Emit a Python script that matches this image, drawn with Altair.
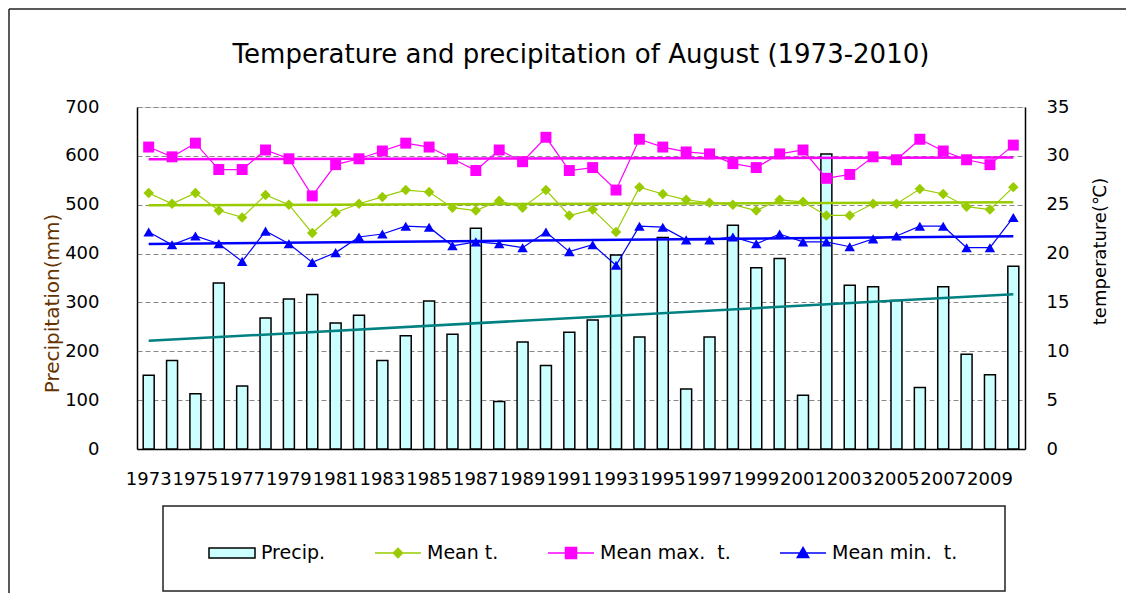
import altair as alt
import pandas as pd

years = list(range(1973, 2011))
precip = [151, 181, 113, 340, 129, 268, 307, 316, 258, 274, 181, 232, 303,
          235, 452, 97, 219, 171, 239, 264, 397, 229, 433, 123, 229, 458,
          371, 390, 110, 604, 335, 332, 304, 126, 332, 194, 152, 374]
mean_t = [26.2, 25.1, 26.2, 24.4, 23.7, 26.0, 25.0, 22.1, 24.2, 25.1, 25.8, 26.5, 26.3,
          24.7, 24.4, 25.4, 24.7, 26.5, 23.9, 24.5, 22.2, 26.8, 26.1, 25.5, 25.2, 25.0,
          24.4, 25.5, 25.3, 23.9, 23.9, 25.1, 25.1, 26.6, 26.1, 24.8, 24.5, 26.8]
mean_max = [30.9, 29.9, 31.3, 28.6, 28.6, 30.6, 29.7, 25.9, 29.1, 29.7, 30.5, 31.3, 30.9,
            29.7, 28.5, 30.6, 29.4, 31.9, 28.5, 28.8, 26.5, 31.7, 30.9, 30.4, 30.2, 29.2,
            28.8, 30.2, 30.6, 27.7, 28.1, 29.9, 29.6, 31.7, 30.5, 29.6, 29.1, 31.1]
mean_min = [22.2, 20.9, 21.8, 21.0, 19.2, 22.3, 21.0, 19.1, 20.1, 21.7, 22.0, 22.8, 22.7,
            20.8, 21.2, 21.0, 20.6, 22.2, 20.2, 20.9, 18.8, 22.8, 22.7, 21.4, 21.4, 21.7,
            21.0, 22.0, 21.2, 21.2, 20.7, 21.5, 21.8, 22.8, 22.8, 20.6, 20.6, 23.7]

year_labels = list(range(1973, 2010, 2))
precip_ticks = list(range(0, 701, 100))
temp_ticks = list(range(0, 36, 5))

series_names = ["Precip.", "Mean t.", "Mean max.\u00a0 t.", "Mean min.\u00a0 t."]
series_fill = ["#ccffff", "#99cc00", "#ff00ff", "#0000ff"]
series_stroke = ["#000000", "#99cc00", "#ff00ff", "#0000ff"]
legend_shapes = [
    "M-1,-0.22H1V0.22H-1Z",
    "M-1,0H1M-0.2,0L0,-0.2L0.2,0L0,0.2Z",
    "M-1,0H1M-0.24,-0.24H0.24V0.24H-0.24Z",
    "M-1,0H1M0,-0.24L0.25,0.2H-0.25Z",
]

FONT = "DejaVu Sans"
W, H = 888, 342
PAD = {"left": 129, "top": 99, "right": 101, "bottom": 144}

df = pd.DataFrame({"year": years, "precip": precip, "mean_t": mean_t,
                   "mean_max": mean_max, "mean_min": mean_min})

x_enc = alt.X(
    "year:O",
    scale=alt.Scale(domain=years, paddingInner=0.53, paddingOuter=0.265),
    axis=alt.Axis(values=year_labels, title=None, labelAngle=0, ticks=False,
                  labelPadding=21, labelFont=FONT, labelFontSize=18,
                  labelColor="black", domainColor="black", domainWidth=1.5,
                  labelOverlap=False, grid=False),
)

precip_axis = alt.Axis(values=precip_ticks, title="Precipitation(mm)", ticks=False,
                       labelPadding=38, labelFont=FONT, labelFontSize=18,
                       labelColor="black", domainColor="black", domainWidth=1.5,
                       grid=True, gridDash=[5, 3], gridColor="#888888",
                       titleFont=FONT, titleFontSize=20, titleFontWeight="normal",
                       titleColor="#663300", titleAngle=270, titleAlign="center",
                       titleBaseline="middle", titleX=-85, titleY=196)
temp_axis = alt.Axis(values=temp_ticks, title="temperature(\u2103)", orient="right",
                     ticks=False, labelPadding=21, labelFont=FONT, labelFontSize=18,
                     labelColor="black", domainColor="black", domainWidth=1.5,
                     grid=False, titleFont=FONT, titleFontSize=18,
                     titleFontWeight="normal", titleColor="black", titleAngle=270,
                     titleAlign="center", titleBaseline="middle", titleX=75, titleY=144)

y_precip = lambda f: alt.Y(f"{f}:Q", scale=alt.Scale(domain=[0, 700]), axis=precip_axis)
y_temp = lambda f: alt.Y(f"{f}:Q", scale=alt.Scale(domain=[0, 35]), axis=temp_axis)

bars = alt.Chart(df).mark_bar(fill="#ccffff", stroke="black", strokeWidth=1.5).encode(
    x=x_enc, y=y_precip("precip"))
ptrend = alt.Chart(df).transform_regression("year", "precip").mark_line(
    color="#008080", strokeWidth=2.5).encode(x=x_enc, y=y_precip("precip"))
precip_layer = alt.layer(bars, ptrend)

temp_specs = [("mean_t", "#99cc00", "diamond", 110),
              ("mean_max", "#ff00ff", "square", 120),
              ("mean_min", "#0000ff", "triangle-up", 110)]
temp_layers = []
for field, col, shp, sz in temp_specs:
    temp_layers.append(
        alt.Chart(df).mark_line(
            color=col, strokeWidth=1.2,
            point=alt.OverlayMarkDef(shape=shp, size=sz, filled=True, color=col, opacity=1),
        ).encode(x=x_enc, y=y_temp(field)))
for field, col, shp, sz in temp_specs:
    temp_layers.append(
        alt.Chart(df).transform_regression("year", field).mark_line(
            color=col, strokeWidth=2.5).encode(x=x_enc, y=y_temp(field)))
temp_layer = alt.layer(*temp_layers)

leg = alt.Legend(orient="none", legendX=50, legendY=401, direction="horizontal",
                 title=None, padding=21, strokeColor="transparent", fillColor="transparent",
                 symbolSize=2116, symbolStrokeWidth=1.5, labelFont=FONT,
                 labelFontSize=19, labelColor="black", labelOffset=5,
                 columnPadding=46, labelLimit=300)
leg_df = pd.DataFrame({"series": series_names})
legend_layer = alt.Chart(leg_df).transform_filter("false").mark_point(
    size=2116, strokeWidth=1.5, opacity=1).encode(
    shape=alt.Shape("series:N", scale=alt.Scale(domain=series_names, range=legend_shapes), legend=leg),
    fill=alt.Fill("series:N", scale=alt.Scale(domain=series_names, range=series_fill), legend=leg),
    stroke=alt.Stroke("series:N", scale=alt.Scale(domain=series_names, range=series_stroke), legend=leg),
)

one = pd.DataFrame({"d": [0]})
right_edge = W + PAD["right"]
bottom_edge = H + PAD["bottom"]
# chart frame (top and left edges; the rest lies outside the window)
frame_top = alt.Chart(one).mark_rule(color="#222222", strokeWidth=1.5).encode(
    x=alt.value(-128), x2=alt.value(right_edge), y=alt.value(-98))
frame_left = alt.Chart(one).mark_rule(color="#222222", strokeWidth=1.5).encode(
    x=alt.value(-128), y=alt.value(-98), y2=alt.value(bottom_edge))
# legend box
legend_box = alt.Chart(one).mark_rect(
    fill="white", stroke="#222222", strokeWidth=1.5).encode(
    x=alt.value(26), x2=alt.value(868), y=alt.value(399), y2=alt.value(484))

chart = alt.layer(frame_top, frame_left, legend_box, precip_layer, temp_layer,
                  legend_layer).resolve_scale(
    y="independent"
).properties(
    width=W, height=H,
    title=alt.TitleParams("Temperature and precipitation of August (1973-2010)",
                          font=FONT, fontSize=26, fontWeight="normal", color="black",
                          anchor="middle", frame="group", baseline="alphabetic",
                          offset=0, dy=81),
    autosize=alt.AutoSizeParams(type="none"),
    padding=PAD,
).configure_view(stroke="#888888", strokeWidth=1).configure(background="white")

chart.save("out.html", embed_options={"renderer": "svg", "actions": False})
